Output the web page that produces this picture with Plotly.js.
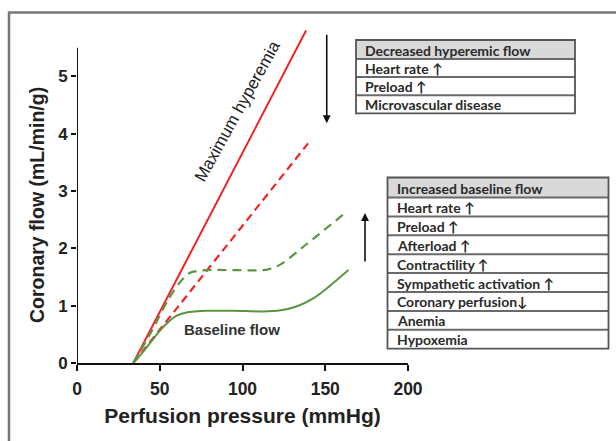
<!DOCTYPE html>
<html>
<head>
<meta charset="utf-8">
<script src="https://cdn.plot.ly/plotly-3.0.1.min.js"></script>
<style>html,body{margin:0;padding:0;background:#fff;}</style>
</head>
<body>
<div id="chart" style="width:616px;height:441px;"></div>
<script>
// ---- data ----
const hyperX = [34, 138.4];
const hyperY = [0, 5.8];
const hyperDecX = [34, 139.6];
const hyperDecY = [0, 3.83];
const baseX = [34, 40, 45, 50, 55, 60, 66, 80, 95, 112, 123, 133, 143, 153, 164];
const baseY = [0, 0.2, 0.38, 0.56, 0.71, 0.82, 0.88, 0.91, 0.91, 0.9, 0.92, 0.99, 1.13, 1.35, 1.62];
const baseIncX = [34, 45, 55, 62, 68, 78, 115, 123, 139, 163];
const baseIncY = [0, 0.55, 1.1, 1.4, 1.57, 1.62, 1.63, 1.72, 2.08, 2.64];
const xTicks = [0, 50, 100, 150, 200];
const yTicks = [0, 1, 2, 3, 4, 5];
const table1Header = 'Decreased hyperemic flow';
const table1Rows = ['Heart rate \u2191', 'Preload \u2191', 'Microvascular disease'];
const table2Header = 'Increased baseline flow';
const table2Rows = ['Heart rate \u2191', 'Preload \u2191', 'Afterload \u2191', 'Contractility \u2191',
  'Sympathetic activation \u2191', 'Coronary perfusion\u2193', 'Anemia', 'Hypoxemia'];

// ---- layout helpers (pixel -> paper) ----
const L = 77, R = 408, T = 19, B = 363;
const px = v => (v - L) / (R - L);
const py = v => (B - v) / (B - T);
const AX = 'Liberation Sans, Arial, sans-serif';
const TF = 'Lato, Open Sans, sans-serif';
const red = '#f42323', green = '#5a9642';

const traces = [
  {x: hyperX, y: hyperY, mode: 'lines', line: {color: red, width: 2}},
  {x: hyperDecX, y: hyperDecY, mode: 'lines', line: {color: red, width: 2.2, dash: '8px,5px'}},
  {x: baseIncX, y: baseIncY, mode: 'lines', line: {color: green, width: 2.2, dash: '9px,6px', shape: 'spline', smoothing: 0.8}},
  {x: baseX, y: baseY, mode: 'lines', line: {color: green, width: 2, shape: 'spline', smoothing: 0.9}}
];

const shapes = [
  // outer frame
  {type: 'rect', xref: 'paper', yref: 'paper', x0: px(9), x1: px(640), y0: py(460), y1: py(12.5),
   line: {color: '#777', width: 2.5}, layer: 'below'},
  // y axis line 0..5.5
  {type: 'line', xref: 'x', yref: 'y', x0: 0, x1: 0, y0: 0, y1: 5.5, line: {color: '#111', width: 2}}
];
const annotations = [];

function table(x0, x1, top, rowH, header, rows, fs) {
  const bottom = top + rowH[0] + rowH[1] * rows.length;
  shapes.push({type: 'rect', xref: 'paper', yref: 'paper', x0: px(x0), x1: px(x1), y0: py(top + rowH[0]), y1: py(top),
    fillcolor: '#d9d9d9', line: {width: 0}});
  let y = top + rowH[0];
  const lines = [y];
  for (let i = 0; i < rows.length - 1; i++) { y += rowH[1]; lines.push(y); }
  lines.forEach(v => shapes.push({type: 'line', xref: 'paper', yref: 'paper', x0: px(x0), x1: px(x1), y0: py(v), y1: py(v),
    line: {color: '#6a6a6a', width: 2}}));
  shapes.push({type: 'rect', xref: 'paper', yref: 'paper', x0: px(x0), x1: px(x1), y0: py(bottom), y1: py(top),
    line: {color: '#555', width: 1.8}});
  const all = [header].concat(rows);
  let c = top;
  all.forEach((t, i) => {
    const h = i === 0 ? rowH[0] : rowH[1];
    annotations.push({xref: 'paper', yref: 'paper', x: px(x0 + 7), y: py(c + h / 2 + 0.5), text: t, showarrow: false,
      xanchor: 'left', yanchor: 'middle', font: {family: TF, size: fs, color: '#2a2a2a', weight: 'bold'}});
    c += h;
  });
}
table(356, 575, 40, [19, 18.1], table1Header, table1Rows, 14);
table(387.5, 608.5, 177.5, [20, 18.9], table2Header, table2Rows, 14);

annotations.push(
  {xref: 'x', yref: 'y', x: 97.0, y: 4.38, text: 'Maximum hyperemia', textangle: -61, showarrow: false,
   xanchor: 'center', yanchor: 'middle',
   font: {family: AX, size: 17, color: '#222'}},
  {xref: 'x', yref: 'y', x: 93.4, y: 0.58, text: 'Baseline flow', showarrow: false,
   xanchor: 'center', yanchor: 'middle',
   font: {family: AX, size: 15, color: '#333', weight: 'bold'}},
  {xref: 'paper', yref: 'paper', x: px(37), y: py(205), text: 'Coronary flow (mL/min/g)', textangle: -90, showarrow: false,
   xanchor: 'center', yanchor: 'middle',
   font: {family: AX, size: 19.5, color: '#222', weight: 'bold'}},
  // arrows
  {xref: 'x', yref: 'y', axref: 'x', ayref: 'y', x: 150.9, y: 4.18, ax: 150.9, ay: 5.75, text: '', showarrow: true,
   arrowhead: 2, arrowsize: 1, arrowwidth: 1.6, arrowcolor: '#111'},
  {xref: 'paper', yref: 'paper', axref: 'pixel', ayref: 'pixel', x: px(365), y: py(213), ax: 0, ay: 50, text: '', showarrow: true,
   arrowhead: 2, arrowsize: 1, arrowwidth: 1.6, arrowcolor: '#111'}
);

const layout = {
  width: 616, height: 441,
  margin: {l: L, r: 616 - R, t: T, b: 441 - B, pad: 0},
  paper_bgcolor: '#fff', plot_bgcolor: 'rgba(0,0,0,0)',
  showlegend: false,
  xaxis: {range: [0, 200], tickvals: xTicks, ticktext: xTicks.map(String), showgrid: false, zeroline: false,
    showline: true, linecolor: '#111', linewidth: 2, ticks: 'outside', ticklen: 6, tickwidth: 2, tickcolor: '#111',
    ticklabelstandoff: 3,
    tickfont: {family: AX, size: 17.5, color: '#222', weight: 'bold'},
    title: {text: 'Perfusion pressure (mmHg)', font: {family: AX, size: 21, color: '#222', weight: 'bold'}, standoff: 10}},
  yaxis: {range: [0, 6.0], tickvals: yTicks, ticktext: yTicks.map(String), showgrid: false, zeroline: false,
    showline: false, ticks: 'outside', ticklen: 5, tickwidth: 2, tickcolor: '#111',
    tickfont: {family: AX, size: 17, color: '#222', weight: 'bold'}},
  shapes: shapes,
  annotations: annotations
};
Plotly.newPlot('chart', traces, layout, {displayModeBar: false, staticPlot: true});
</script>
</body>
</html>
